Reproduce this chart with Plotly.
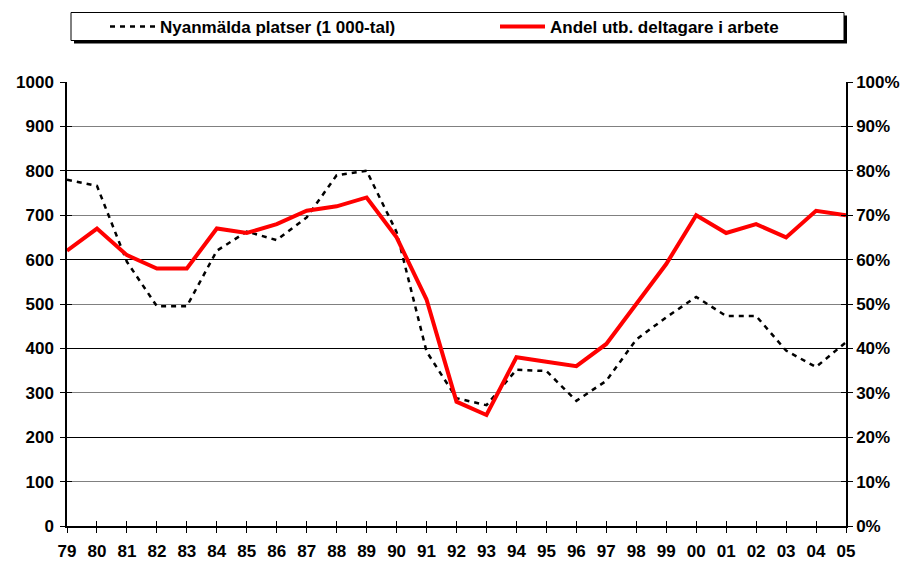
import plotly.graph_objects as go

years = ["79","80","81","82","83","84","85","86","87","88","89","90","91","92","93",
         "94","95","96","97","98","99","00","01","02","03","04","05"]
platser = [780, 766, 595, 495, 495, 620, 663, 644, 695, 790, 800, 662, 393, 288, 272,
           352, 349, 282, 327, 420, 470, 516, 473, 473, 395, 358, 414]
andel = [0.62, 0.67, 0.61, 0.58, 0.58, 0.67, 0.66, 0.68, 0.71, 0.72, 0.74, 0.65, 0.51, 0.28, 0.25,
         0.38, 0.37, 0.36, 0.41, 0.50, 0.59, 0.70, 0.66, 0.68, 0.65, 0.71, 0.70]
left_ticks = list(range(0, 1001, 100))
right_ticks = [i / 10 for i in range(0, 11)]

xpos = list(range(len(years)))
FONT = dict(family="Liberation Sans, Arial, sans-serif", size=17, color="black", weight="bold")
LFONT = dict(family="Liberation Sans, Arial, sans-serif", size=17, color="black", weight="bold")

W, H = 909, 563
ML, MR, MT, MB = 67, 63, 82, 37
PW, PH = W - ML - MR, H - MT - MB


def px_x(px):
    return (px - ML) / PW


def px_y(py):
    return 1 + (MT - py) / PH


fig = go.Figure()
fig.add_trace(go.Scatter(x=xpos, y=platser, mode="lines", name="Nyanmälda platser (1 000-tal)",
                         line=dict(color="black", width=2.5, dash="5px,5px"), yaxis="y"))
fig.add_trace(go.Scatter(x=xpos, y=andel, mode="lines", name="Andel utb. deltagare i arbete",
                         line=dict(color="#ff0000", width=4), yaxis="y2"))

common_ticks = dict(ticklen=5, tickcolor="black", tickwidth=1, zeroline=False)
fig.update_layout(
    width=W, height=H,
    margin=dict(l=ML, r=MR, t=MT, b=MB, autoexpand=False),
    paper_bgcolor="white", plot_bgcolor="white",
    font=FONT,
    showlegend=True,
    legend=dict(orientation="h", x=px_x(105), xanchor="left", y=px_y(27), yanchor="middle",
                font=LFONT, bgcolor="rgba(0,0,0,0)", borderwidth=0,
                entrywidth=330, entrywidthmode="pixels", itemwidth=45),
    xaxis=dict(range=[0, len(years) - 1], tickvals=xpos, ticktext=years, showgrid=False,
               showline=True, linecolor="black", linewidth=1.5, ticks="outside", tickfont=FONT,
               automargin=False, ticklabelstandoff=4, **common_ticks),
    xaxis2=dict(range=[0, len(years) - 1], tickvals=xpos, overlaying="x", anchor="y", side="bottom",
                showticklabels=False, showgrid=False, showline=False, ticks="inside", **common_ticks),
    yaxis=dict(range=[0, 1000], tickvals=left_ticks, showgrid=True, gridcolor="#808080", gridwidth=1,
               showline=True, linecolor="black", linewidth=1.5, ticks="outside", tickfont=FONT,
               automargin=False, ticklabelstandoff=3, **common_ticks),
    yaxis2=dict(range=[0, 1], tickvals=right_ticks, tickformat=".0%", overlaying="y", side="right",
                showgrid=False, showline=True, linecolor="black", linewidth=1.5, ticks="outside",
                tickfont=FONT, automargin=False, **common_ticks),
    yaxis3=dict(range=[0, 1000], tickvals=[200, 400, 600, 800, 1000], overlaying="y", showgrid=True,
                gridcolor="black", gridwidth=1, showticklabels=False, ticks="", showline=False,
                zeroline=False),
    yaxis4=dict(range=[0, 1000], tickvals=left_ticks, overlaying="y", side="left", showgrid=False,
                showticklabels=False, showline=False, ticks="inside", **common_ticks),
    yaxis5=dict(range=[0, 1], tickvals=right_ticks, overlaying="y", side="right", showgrid=False,
                showticklabels=False, showline=False, ticks="inside", **common_ticks),
    shapes=[
        dict(type="rect", xref="paper", yref="paper", x0=px_x(74), x1=px_x(847), y0=px_y(43.5),
             y1=px_y(15.5), fillcolor="black", line=dict(width=0), layer="above"),
        dict(type="rect", xref="paper", yref="paper", x0=px_x(71), x1=px_x(844), y0=px_y(40.5),
             y1=px_y(12.5), fillcolor="white", line=dict(color="black", width=1), layer="above"),
    ],
)
for ax in ["y3", "y4", "y5"]:
    fig.add_trace(go.Scatter(x=[None], y=[None], yaxis=ax, showlegend=False, hoverinfo="skip"))
fig.add_trace(go.Scatter(x=[None], y=[None], xaxis="x2", showlegend=False, hoverinfo="skip"))

fig.write_html("out.html", config={"displayModeBar": False},
               post_script="document.body.style.margin='0px';document.body.style.overflow='hidden';")
